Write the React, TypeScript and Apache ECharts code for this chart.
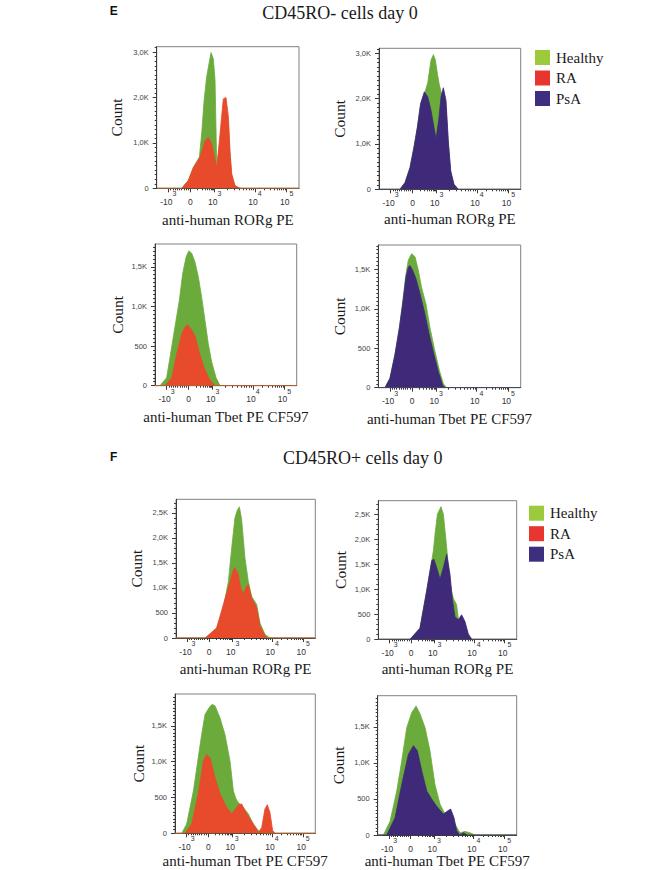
import React, { useEffect, useRef } from 'react';
import * as echarts from 'echarts';

const SERIF = '"Liberation Serif", "Times New Roman", serif';
const SANS = '"Liberation Sans", Arial, sans-serif';

const GREEN = '#6aab3c';
const RED = '#e84a2c';
const PURPLE = '#3e2a78';
const LEG_GREEN = '#9dca3c';
const LEG_RED = '#e8352f';
const LEG_PURPLE = '#3f2d80';

// Logicle display scale (0-100) positions of the decade labels
const X_TICK_POS = [8.2, 23.7, 40.7, 69.1, 91.3];
const X_TICK_LABELS = ['-10^3', '0', '10^3', '10^4', '10^5'];

const Y_TICKS_E_RORG = [0, 1000, 2000, 3000];
const Y_TICKS_E_TBET = [0, 500, 1000, 1500];
const Y_TICKS_F_RORG = [0, 500, 1000, 1500, 2000, 2500];
const Y_TICKS_F_TBET = [0, 500, 1000, 1500];

// [display position, count]
// E: CD45RO- cells day 0, RORg
const E_RORG_HEALTHY_A = [[0, 0], [17.6, 0], [22.2, 170], [25.8, 460], [30, 690], [31.6, 1200], [33.3, 1930], [35.1, 2450], [37, 2790], [38.2, 2990], [39.8, 2850], [41, 2380], [42.2, 460], [44.5, 1000], [46.8, 1700], [48.7, 1750], [50.4, 1400], [51.5, 700], [52.7, 280], [55, 50], [58.5, 0], [100, 0]];
const E_RORG_RA = [[0, 0], [17.6, 0], [22.2, 170], [25.8, 460], [30.4, 680], [34, 1050], [36.3, 1120], [38.6, 980], [40.5, 700], [42.2, 460], [44.5, 1200], [46.8, 1970], [48.7, 2000], [50.4, 1570], [51.5, 830], [52.7, 320], [55, 60], [58.5, 0], [100, 0]];
const E_RORG_HEALTHY_B = [[0, 0], [14.8, 0], [18.4, 150], [21.9, 480], [24.7, 930], [27.1, 1370], [29.4, 1890], [32, 2100], [34.4, 2350], [36.7, 2850], [38.4, 2970], [39.8, 2850], [41.2, 2550], [42.6, 2300], [44.2, 2100], [45.4, 2000], [47.3, 1800], [48.9, 1000], [50.6, 380], [52.9, 100], [56, 0], [100, 0]];
const E_RORG_PSA = [[0, 0], [14.8, 0], [18.4, 150], [21.9, 480], [24.7, 930], [27.1, 1370], [29.4, 1890], [32, 2150], [34.4, 2040], [36.7, 1740], [38.8, 1370], [40.2, 1110], [42.1, 1520], [43.8, 2040], [45.4, 2240], [47.3, 1960], [48.9, 1070], [50.6, 410], [52.9, 110], [56, 0], [100, 0]];
// E: Tbet
const E_TBET_HEALTHY_A = [[0, 0], [3.5, 0], [8.2, 100], [11.8, 490], [14.8, 820], [17.2, 1080], [19.5, 1410], [21.9, 1620], [23.8, 1700], [25.9, 1670], [28.2, 1560], [30.6, 1370], [32.9, 1120], [35.3, 820], [37.6, 530], [40, 300], [43.1, 100], [45.9, 0], [100, 0]];
const E_TBET_RA = [[0, 0], [7, 0], [11.8, 100], [15.3, 400], [18.8, 650], [21.2, 740], [23.1, 770], [25.2, 720], [28.2, 630], [31.3, 420], [34.6, 230], [38.4, 80], [42.4, 0], [100, 0]];
const E_TBET_HEALTHY_B = [[0, 0], [4.7, 0], [8.2, 120], [11.7, 420], [14.8, 760], [17.1, 1080], [19.4, 1440], [21.1, 1620], [23.4, 1700], [25.8, 1660], [28.1, 1490], [30.4, 1270], [33.5, 1060], [36.3, 760], [39.8, 460], [42.9, 220], [45.7, 50], [48, 0], [100, 0]];
const E_TBET_PSA = [[0, 0], [4.7, 0], [8.2, 120], [11.7, 420], [14.8, 760], [17.1, 1060], [19.4, 1400], [21.1, 1530], [22.2, 1550], [24.1, 1490], [26.5, 1380], [29.3, 1190], [32.3, 970], [35.8, 670], [39.1, 420], [42.2, 200], [45.2, 30], [46.8, 0], [100, 0]];
// F: CD45RO+ cells day 0, RORg
const F_RORG_HEALTHY_A = [[0, 0], [22, 0], [29.2, 200], [34, 600], [37.6, 1130], [40, 1800], [42.3, 2400], [44, 2550], [45.5, 2620], [47.1, 2370], [49.5, 1600], [51.9, 1130], [54.3, 830], [57.9, 670], [60.3, 300], [63.9, 70], [67.5, 0], [100, 0]];
const F_RORG_RA = [[0, 0], [20.8, 0], [29.2, 200], [34, 670], [38.8, 1130], [41, 1350], [42.3, 1410], [44.7, 1270], [46.5, 1000], [48.3, 870], [50, 1000], [51.9, 1070], [54.3, 800], [57.9, 600], [60.3, 230], [65, 0], [100, 0]];
const F_RORG_HEALTHY_B = [[0, 0], [22.9, 0], [30.1, 220], [34.9, 960], [38.6, 1570], [39.8, 1770], [41, 2100], [42.7, 2500], [45.3, 2650], [47, 2500], [48.7, 2040], [50.5, 1500], [52.5, 1000], [54.2, 820], [56.6, 690], [57.8, 420], [60.2, 350], [62.7, 250], [65, 80], [67.5, 0], [100, 0]];
const F_RORG_PSA = [[0, 0], [22.9, 0], [30.1, 220], [34.9, 960], [38.6, 1570], [40.2, 1600], [42.2, 1430], [44.6, 1200], [47, 1430], [49.4, 1700], [51.8, 1300], [53.5, 800], [55.4, 450], [57.8, 390], [60.2, 490], [62.7, 350], [65, 110], [67.5, 0], [100, 0]];
// F: Tbet
const F_TBET_HEALTHY_A = [[0, 0], [4.8, 0], [8.3, 130], [13.1, 590], [16.6, 1060], [19, 1380], [21.4, 1660], [24.9, 1770], [26.5, 1800], [28.5, 1780], [32.1, 1610], [35.6, 1380], [39.2, 1010], [41.6, 590], [43.5, 480], [45.1, 430], [48.7, 360], [52.3, 270], [55.8, 130], [59.4, 40], [62.9, 0], [100, 0]];
const F_TBET_RA = [[0, 0], [7.1, 0], [11.9, 130], [16.6, 550], [20.2, 1010], [22.6, 1100], [24.9, 1060], [28.5, 780], [32.1, 550], [36.8, 360], [40.4, 270], [43.9, 360], [45.5, 400], [47.5, 410], [51.1, 270], [55.8, 130], [59.4, 10], [61.8, 80], [64.1, 340], [65.8, 400], [67.7, 290], [69.6, 40], [71.3, 0], [100, 0]];
const F_TBET_HEALTHY_B = [[0, 0], [4.1, 0], [8.9, 190], [13.7, 610], [17.3, 1030], [20.9, 1490], [24.5, 1700], [27.6, 1790], [30.5, 1680], [34.1, 1490], [37.6, 1170], [41.2, 700], [44.8, 430], [48.4, 290], [52, 290], [55.6, 150], [59.2, 30], [62.8, 50], [66.4, 30], [70, 0], [100, 0]];
const F_TBET_PSA = [[0, 0], [6.5, 0], [12.5, 240], [17.3, 700], [22.1, 1120], [25.7, 1240], [28.5, 1170], [31.7, 890], [35.3, 610], [38.8, 500], [42.4, 400], [47.2, 290], [50.8, 340], [52.5, 360], [54.9, 240], [56.8, 60], [59.2, 0], [61.6, 30], [64.5, 0], [100, 0]];

const RORG_TITLE = 'anti-human RORg PE';
const TBET_TITLE = 'anti-human Tbet PE CF597';

type Panel = {
  rect: number[]; // left, top, width, height
  yMax: number;
  yTicks: number[];
  yMinor: number;
  xTitle: string;
  healthy: number[][];
  other: number[][];
  otherName: string;
  otherColor: string;
  xNameGap: number;
  yNameGap: number;
};

const PANELS: Panel[] = [
  { rect: [156.7, 46.7, 142.3, 141.6], yMax: 3120, yTicks: Y_TICKS_E_RORG, yMinor: 100, xTitle: RORG_TITLE, healthy: E_RORG_HEALTHY_A, other: E_RORG_RA, otherName: 'RA', otherColor: RED, xNameGap: 24, yNameGap: 32 },
  { rect: [379, 48.3, 141.7, 141], yMax: 3110, yTicks: Y_TICKS_E_RORG, yMinor: 100, xTitle: RORG_TITLE, healthy: E_RORG_HEALTHY_B, other: E_RORG_PSA, otherName: 'PsA', otherColor: PURPLE, xNameGap: 22, yNameGap: 32 },
  { rect: [155, 244, 141.7, 141.7], yMax: 1787, yTicks: Y_TICKS_E_TBET, yMinor: 50, xTitle: TBET_TITLE, healthy: E_TBET_HEALTHY_A, other: E_TBET_RA, otherName: 'RA', otherColor: RED, xNameGap: 24, yNameGap: 30 },
  { rect: [378.3, 245, 142.4, 142.7], yMax: 1810, yTicks: Y_TICKS_E_TBET, yMinor: 50, xTitle: TBET_TITLE, healthy: E_TBET_HEALTHY_B, other: E_TBET_PSA, otherName: 'PsA', otherColor: PURPLE, xNameGap: 24, yNameGap: 31 },
  { rect: [176, 499.3, 139.3, 138.7], yMax: 2770, yTicks: Y_TICKS_F_RORG, yMinor: 100, xTitle: RORG_TITLE, healthy: F_RORG_HEALTHY_A, other: F_RORG_RA, otherName: 'RA', otherColor: RED, xNameGap: 23, yNameGap: 32 },
  { rect: [378.3, 500.7, 138.4, 138.6], yMax: 2770, yTicks: Y_TICKS_F_RORG, yMinor: 100, xTitle: RORG_TITLE, healthy: F_RORG_HEALTHY_B, other: F_RORG_PSA, otherName: 'PsA', otherColor: PURPLE, xNameGap: 22, yNameGap: 30 },
  { rect: [175, 694, 140.3, 139.3], yMax: 1945, yTicks: Y_TICKS_F_TBET, yMinor: 50, xTitle: TBET_TITLE, healthy: F_TBET_HEALTHY_A, other: F_TBET_RA, otherName: 'RA', otherColor: RED, xNameGap: 20, yNameGap: 29 },
  { rect: [377.7, 695.7, 139, 139.3], yMax: 1934, yTicks: Y_TICKS_F_TBET, yMinor: 50, xTitle: TBET_TITLE, healthy: F_TBET_HEALTHY_B, other: F_TBET_PSA, otherName: 'PsA', otherColor: PURPLE, xNameGap: 14, yNameGap: 31 },
];

function yLabel(v: number): string {
  if (v === 0) return '0';
  if (v < 1000) return String(v);
  return (v / 1000).toFixed(1).replace('.', ',') + 'K';
}

function minorY(step: number, max: number): number[] {
  const out: number[] = [];
  for (let v = 0; v <= max; v += step) out.push(v);
  return out;
}

function minorX(): number[] {
  const [pn, p0, p3, p4, p5] = X_TICK_POS;
  const out: number[] = [];
  for (let k = 1; k < 10; k++) out.push(pn + ((p0 - pn) * k) / 10);
  for (let k = 1; k < 9; k++) out.push(p0 + (p3 - p0) * Math.log10(1 + k));
  for (let k = 2; k < 10; k++) out.push(p3 + (p4 - p3) * Math.log10(k));
  for (let k = 2; k < 10; k++) out.push(p4 + (p5 - p4) * Math.log10(k));
  return out;
}

function xLabelFormatter(v: number): string {
  const i = X_TICK_POS.findIndex((p) => Math.abs(p - v) < 0.01);
  if (i < 0) return '';
  const [b, s] = X_TICK_LABELS[i].split('^');
  return s ? `{b|${b}}{s|${s}}` : `{b|${b}}`;
}

function buildOption() {
  const grid: any[] = [];
  const xAxis: any[] = [];
  const yAxis: any[] = [];
  const series: any[] = [];
  const xm = minorX();
  const axisColor = '#3a3a3a';

  PANELS.forEach((p, i) => {
    grid.push({
      left: p.rect[0], top: p.rect[1], width: p.rect[2], height: p.rect[3],
      show: true, borderColor: '#808080', borderWidth: 1, backgroundColor: 'transparent',
    });
    xAxis.push({
      gridIndex: i, type: 'value', min: 0, max: 100, position: 'bottom',
      axisLine: { show: true, onZero: false, lineStyle: { color: axisColor, width: 1 } },
      axisTick: { show: true, customValues: X_TICK_POS, length: 4, lineStyle: { color: axisColor } },
      axisLabel: {
        customValues: X_TICK_POS, formatter: xLabelFormatter, margin: 2,
        rich: {
          b: { fontSize: 8.5, fontFamily: SANS, color: '#333', lineHeight: 16, verticalAlign: 'bottom' },
          s: { fontSize: 7, fontFamily: SANS, color: '#333', lineHeight: 8, verticalAlign: 'top' },
        },
      },
      splitLine: { show: false },
      name: p.xTitle, nameLocation: 'middle', nameGap: p.xNameGap,
      nameTextStyle: { fontFamily: SERIF, fontSize: 15, color: '#1a1a1a' },
    });
    xAxis.push({
      gridIndex: i, type: 'value', min: 0, max: 100, position: 'bottom',
      axisLine: { show: false },
      axisTick: { show: true, customValues: xm, length: 2, lineStyle: { color: axisColor } },
      axisLabel: { show: false },
      splitLine: { show: false },
    });
    yAxis.push({
      gridIndex: i, type: 'value', min: 0, max: p.yMax, position: 'left',
      axisLine: { show: true, onZero: false, lineStyle: { color: axisColor, width: 1 } },
      axisTick: { show: true, customValues: p.yTicks, length: 4, lineStyle: { color: axisColor } },
      axisLabel: { customValues: p.yTicks, formatter: yLabel, margin: 8, fontSize: 7.5, fontFamily: SANS, color: '#444' },
      splitLine: { show: false },
      name: 'Count', nameLocation: 'middle', nameGap: p.yNameGap,
      nameTextStyle: { fontFamily: SERIF, fontSize: 15.5, color: '#1a1a1a' },
    });
    yAxis.push({
      gridIndex: i, type: 'value', min: 0, max: p.yMax, position: 'left',
      axisLine: { show: false },
      axisTick: { show: true, customValues: minorY(p.yMinor, p.yMax), length: 2, lineStyle: { color: axisColor } },
      axisLabel: { show: false },
      splitLine: { show: false },
    });
    series.push({
      type: 'line', name: 'Healthy', xAxisIndex: 2 * i, yAxisIndex: 2 * i, data: p.healthy,
      showSymbol: false, symbol: 'none', silent: true, z: 2,
      lineStyle: { width: 0.8, color: GREEN }, itemStyle: { color: GREEN },
      areaStyle: { color: GREEN, opacity: 1 },
    });
    series.push({
      type: 'line', name: p.otherName, xAxisIndex: 2 * i, yAxisIndex: 2 * i, data: p.other,
      showSymbol: false, symbol: 'none', silent: true, z: 3,
      lineStyle: { width: 0.8, color: p.otherColor }, itemStyle: { color: p.otherColor },
      areaStyle: { color: p.otherColor, opacity: 1 },
    });
  });

  const legendBase = {
    orient: 'vertical', icon: 'rect', itemWidth: 15, itemHeight: 15, itemGap: 5.5,
    selectedMode: false, padding: 0,
    itemStyle: { borderWidth: 0 },
    textStyle: { fontFamily: SERIF, fontSize: 15, color: '#1a1a1a', padding: [0, 0, 0, 1] },
    data: [
      { name: 'Healthy', itemStyle: { color: LEG_GREEN } },
      { name: 'RA', itemStyle: { color: LEG_RED } },
      { name: 'PsA', itemStyle: { color: LEG_PURPLE } },
    ],
  };

  return {
    animation: false,
    backgroundColor: '#ffffff',
    grid, xAxis, yAxis, series,
    legend: [
      { ...legendBase, left: 535, top: 50 },
      { ...legendBase, left: 529, top: 505.7 },
    ],
    graphic: [
      { type: 'text', x: 113.7, y: 11, style: { text: 'E', fontFamily: SANS, fontWeight: 'bold', fontSize: 12, fill: '#111', align: 'center', verticalAlign: 'middle' } },
      { type: 'text', x: 340, y: 13, style: { text: 'CD45RO- cells day 0', fontFamily: SERIF, fontSize: 18, fill: '#1a1a1a', align: 'center', verticalAlign: 'middle' } },
      { type: 'text', x: 113.7, y: 456.7, style: { text: 'F', fontFamily: SANS, fontWeight: 'bold', fontSize: 12, fill: '#111', align: 'center', verticalAlign: 'middle' } },
      { type: 'text', x: 362.7, y: 458, style: { text: 'CD45RO+ cells day 0', fontFamily: SERIF, fontSize: 18, fill: '#1a1a1a', align: 'center', verticalAlign: 'middle' } },
    ],
  };
}

export default function App() {
  const ref = useRef<HTMLDivElement>(null);
  useEffect(() => {
    if (!ref.current) return;
    const chart = echarts.init(ref.current, undefined, { renderer: 'svg' });
    chart.setOption(buildOption() as any);
    return () => chart.dispose();
  }, []);
  return (
    <div
      ref={ref}
      style={{ position: 'absolute', left: 0, top: 0, width: 661, height: 870, background: '#fff' }}
    />
  );
}
